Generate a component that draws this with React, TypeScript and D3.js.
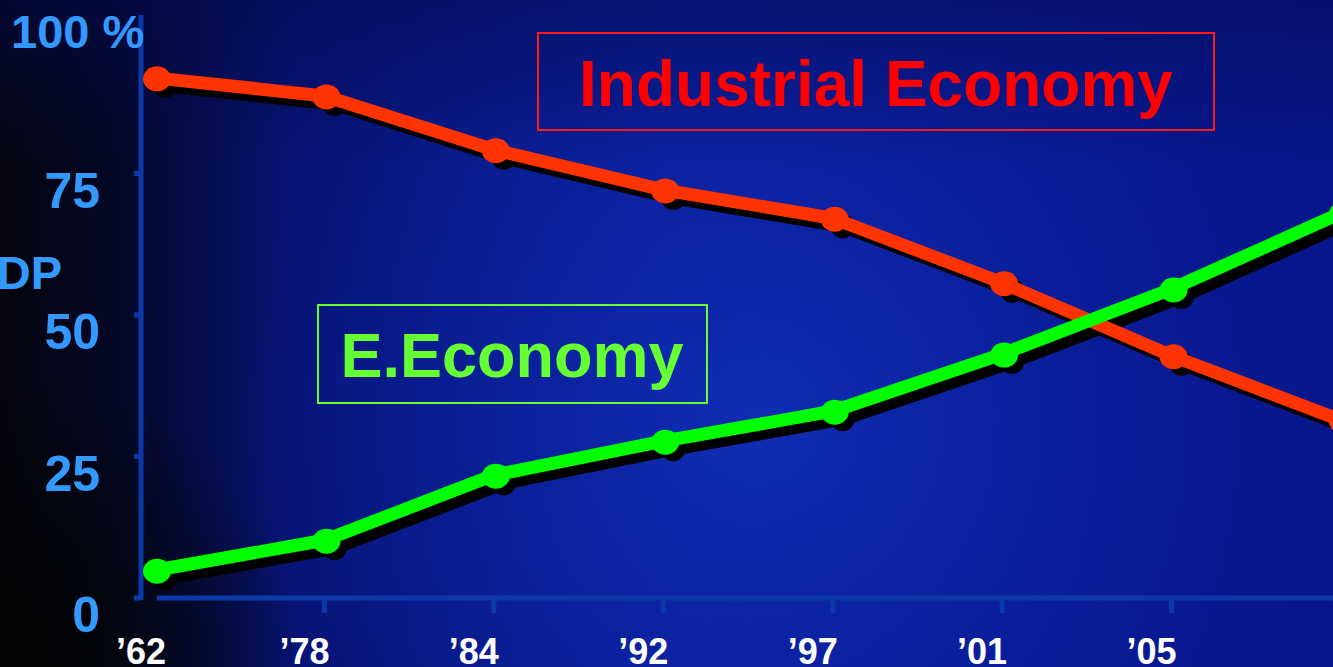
import React from "react";
import * as d3 from "d3";

const years = ["’62", "’78", "’84", "’92", "’97", "’01", "’05", "’09"];
const shownLabels = ["’62", "’78", "’84", "’92", "’97", "’01", "’05"];
const industrial = [91.9, 88.7, 79.2, 72.1, 67.1, 55.7, 42.8, 31.4];
const eEconomy = [4.9, 10.2, 21.7, 27.7, 33.0, 43.1, 54.6, 68.0];
const yTicks = [0, 25, 50, 75];

const W = 1333;
const H = 667;
const FONT = "'Liberation Sans', Arial, Helvetica, sans-serif";

export default function App() {
  const x = d3.scalePoint<string>().domain(years).range([155, 1341]);
  const y = d3.scaleLinear().domain([0, 100]).range([598, 32]);

  const line = d3
    .line<number>()
    .x((_, i) => x(years[i]) as number)
    .y((d) => y(d));

  const series = [
    { name: "industrial", values: industrial, color: "#ff3300" },
    { name: "e", values: eEconomy, color: "#00ff00" },
  ];

  const sdx = 10;
  const sdy = 8;

  return (
    <svg
      width={W}
      height={H}
      style={{ position: "absolute", left: 0, top: 0, display: "block" }}
    >
      <defs>
        <linearGradient id="base" x1="0" y1="0" x2={W} y2="0" gradientUnits="userSpaceOnUse">
          <stop offset="0" stopColor="#04040c" />
          <stop offset="0.09" stopColor="#050828" />
          <stop offset="0.22" stopColor="#071374" />
          <stop offset="0.5" stopColor="#0a1c98" />
          <stop offset="1" stopColor="#08168c" />
        </linearGradient>
        <radialGradient id="glow" cx="760" cy="420" r="520" gradientUnits="userSpaceOnUse">
          <stop offset="0" stopColor="#1030b8" stopOpacity="0.9" />
          <stop offset="0.6" stopColor="#0c26a8" stopOpacity="0.4" />
          <stop offset="1" stopColor="#0c26a8" stopOpacity="0" />
        </radialGradient>
        <linearGradient id="topShade" x1="0" y1="0" x2="0" y2="1">
          <stop offset="0" stopColor="#030a50" stopOpacity="0.55" />
          <stop offset="0.25" stopColor="#030a50" stopOpacity="0" />
        </linearGradient>
        <radialGradient id="blCorner" cx="0" cy={H} r="300" gradientUnits="userSpaceOnUse">
          <stop offset="0" stopColor="#020402" stopOpacity="1" />
          <stop offset="0.5" stopColor="#020404" stopOpacity="0.6" />
          <stop offset="1" stopColor="#020404" stopOpacity="0" />
        </radialGradient>
      </defs>
      <rect x={0} y={0} width={W} height={H} fill="url(#base)" />
      <rect x={0} y={0} width={W} height={H} fill="url(#glow)" />
      <rect x={0} y={0} width={W} height={H} fill="url(#topShade)" />
      <rect x={0} y={0} width={W} height={H} fill="url(#blCorner)" />

      {/* Axes */}
      <line x1={141} y1={15} x2={141} y2={600} stroke="#0b3aa8" strokeWidth={5} />
      {yTicks.map((t) => (
        <line key={"yt" + t} x1={134} x2={141} y1={y(t)} y2={y(t)} stroke="#0b3aa8" strokeWidth={5} />
      ))}
      <line x1={157} y1={y(0)} x2={W} y2={y(0)} stroke="#0b3aa8" strokeWidth={5} />
      {years.slice(1, 7).map((yr) => (
        <line
          key={"xt" + yr}
          x1={x(yr) as number}
          x2={x(yr) as number}
          y1={y(0)}
          y2={y(0) + 15}
          stroke="#0b3aa8"
          strokeWidth={5}
        />
      ))}

      {/* Y labels */}
      {yTicks.map((t) => (
        <text
          key={"yl" + t}
          x={100}
          y={y(t) + 34}
          textAnchor="end"
          fill="#3399ff"
          fontFamily={FONT}
          fontWeight="bold"
          fontSize={50}
        >
          {t}
        </text>
      ))}
      <text x={11} y={48} fill="#3399ff" fontFamily={FONT} fontWeight="bold" fontSize={47}>
        100 %
      </text>
      <text x={62} y={289} textAnchor="end" fill="#3399ff" fontFamily={FONT} fontWeight="bold" fontSize={47}>
        GDP
      </text>

      {/* X labels */}
      {shownLabels.map((yr, i) => (
        <text
          key={"xl" + yr}
          x={(x(yr) as number) + (i === 0 ? 11 : 5)}
          y={664}
          textAnchor="end"
          fill="#ffffff"
          fontFamily={FONT}
          fontWeight="bold"
          fontSize={36}
        >
          {yr}
        </text>
      ))}

      {/* Shadows */}
      {series.map((s) => (
        <g key={"sh" + s.name} transform={`translate(${sdx},${sdy})`}>
          <path d={line(s.values) || ""} fill="none" stroke="#000" strokeWidth={13} strokeLinejoin="round" />
          {s.values.map((v, i) => (
            <circle key={i} cx={x(years[i]) as number} cy={y(v)} r={12} fill="#000" />
          ))}
        </g>
      ))}
      {/* Lines */}
      {series.map((s) => (
        <g key={"ln" + s.name}>
          <path d={line(s.values) || ""} fill="none" stroke={s.color} strokeWidth={13} strokeLinejoin="round" />
          {s.values.map((v, i) => (
            <ellipse key={i} cx={(x(years[i]) as number) + 2} cy={y(v) + 1} rx={14} ry={12.5} fill={s.color} />
          ))}
        </g>
      ))}

      {/* Annotation boxes */}
      <rect x={538} y={33} width={676} height={97} fill="none" stroke="#ff1a1a" strokeWidth={2} />
      <text x={876} y={106} textAnchor="middle" fill="#ff0000" fontFamily={FONT} fontWeight="bold" fontSize={64}>
        Industrial Economy
      </text>
      <rect x={318} y={305} width={389} height={98} fill="none" stroke="#66ff33" strokeWidth={2} />
      <text x={512} y={377} textAnchor="middle" fill="#66ff33" fontFamily={FONT} fontWeight="bold" fontSize={63}>
        E.Economy
      </text>
    </svg>
  );
}
